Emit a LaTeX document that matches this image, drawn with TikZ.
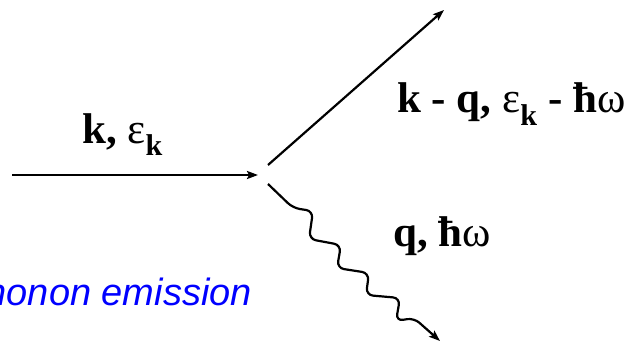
\documentclass[tikz,border=0pt]{standalone}
\usepackage{fontspec}
\setmainfont{Liberation Serif}
\newfontfamily\labelsans{Liberation Sans}
\usetikzlibrary{arrows.meta}
\tikzset{
  prop/.style={line width=2.2pt,-{Stealth[length=11pt,width=8pt,inset=2pt]}},
  phonon/.style={prop,rounded corners=7pt},
  lab/.style={inner sep=0pt,anchor=base west,font=\fontsize{43}{47}\selectfont\bfseries},
  caption/.style={inner sep=0pt,anchor=base east,text=blue,font=\labelsans\fontsize{38}{42}\selectfont\itshape}
}
\newcommand{\eps}{{\mdseries ε}}
\newcommand{\ksub}{\textsubscript{\bfseries k}}
\begin{document}
\begin{tikzpicture}[x=1pt,y=-1pt]
\useasboundingbox (0,0) rectangle (628,342);
\clip (0,0) rectangle (628,342);
\coordinate (inS) at (12,175);
\coordinate (inE) at (258,175);
\coordinate (outS) at (268,165);
\coordinate (outE) at (444,10);
\coordinate (phS) at (268,184);
\coordinate (phE) at (440,341);
\draw[prop] (inS) -- (inE);
\draw[prop] (outS) -- (outE);
\draw[phonon] (phS) -- (293,208) -- (313,211) -- (309,239) -- (341,245) -- (337,268)
  -- (369,273) -- (366,295) -- (400,298) -- (396,321) -- (414,318) -- (phE);
\node[lab] (lin) at (82,143) {k, \eps\ksub};
\node[lab] (lout) at (397,113) {k - q, \eps\ksub\ - ħ{\mdseries ω}};
\node[lab] (lph) at (393,246) {q, ħ{\mdseries ω}};
\node[caption] (cap) at (252,305) {phonon emission};
\end{tikzpicture}
\end{document}
